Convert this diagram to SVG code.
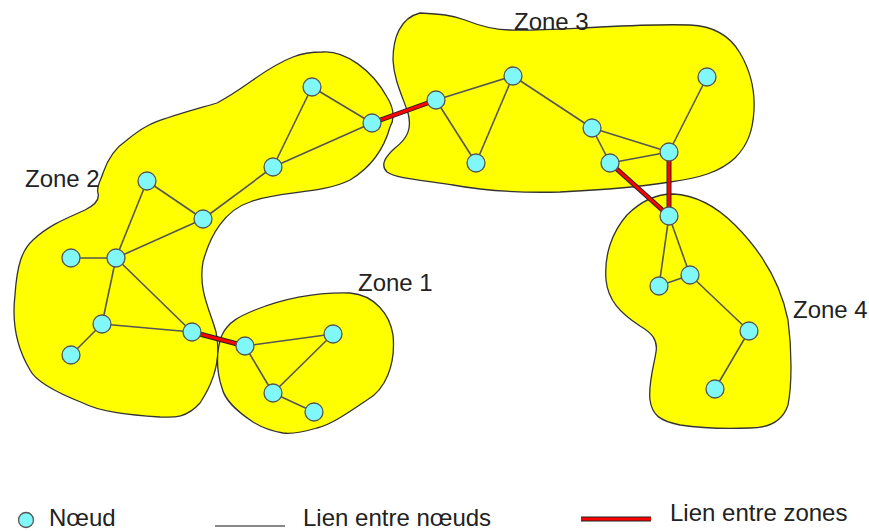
<svg xmlns="http://www.w3.org/2000/svg" width="869" height="531" viewBox="0 0 869 531">
  <style>
    .zone { fill: #ffff00; stroke: #333; stroke-width: 1.3; }
    .edge { stroke: #555; stroke-width: 1.6; fill: none; }
    .xlink-out { stroke: #222; stroke-width: 5; fill: none; }
    .xlink { stroke: #ff0000; stroke-width: 3; fill: none; }
    .node { fill: #80f8f8; stroke: #555; stroke-width: 1.3; }
    .label { font-family: "Liberation Sans", Arial, sans-serif; font-size: 24px; fill: #222; }
  </style>
  <rect width="869" height="531" fill="#ffffff"/>

  <!-- zones -->
  <g id="zone2">
    <path class="zone" d="M322,52 C345,50 372,70 387,97 C395,110 394,120 390,127 C385,145 375,165 350,180 C320,195 280,190 250,202 C225,210 210,235 203,262 C198,290 210,310 216,332 C222,360 212,385 200,403 C185,420 170,417 160,417 C130,415 100,412 83,403 C55,392 35,380 30,370 C15,345 12,320 15,295 C17,265 22,250 33,240 C50,224 70,217 85,210 C95,205 100,200 98,193 C96,187 101,180 103,173 C108,158 115,148 127,140 C145,125 155,122 167,118 C185,112 200,108 217,103 C232,95 243,87 253,80 C267,70 280,62 293,57 C303,53 312,52 322,52 Z"/>
    <text class="label" x="25" y="187">Zone 2</text>
  </g>
  <g id="zone1">
    <path class="zone" d="M350,293 C375,295 390,315 393,335 C396,365 385,390 367,400 C345,415 330,425 317,428 C300,433 290,434 283,433 C265,430 258,425 253,422 C235,410 225,400 222,388 C216,370 216,350 222,335 C228,322 240,316 255,310 C280,300 310,292 350,293 Z"/>
    <text class="label" x="358" y="291">Zone 1</text>
  </g>
  <g id="zone3">
    <path class="zone" d="M420,13 C440,14 452,15 465,20 C480,26 495,30 510,30 C530,31 560,29 600,27 C640,25 660,24 690,25 C715,26 730,36 740,53 C750,70 755,90 754,110 C753,130 748,145 735,158 C720,172 700,178 670,182 C640,187 600,190 560,192 C520,193 480,190 453,185 C420,180 395,178 387,172 C380,165 385,157 395,148 C408,138 412,128 408,113 C402,95 394,80 393,60 C393,38 400,18 420,13 Z"/>
    <text class="label" x="514" y="30">Zone 3</text>
  </g>
  <g id="zone4">
    <path class="zone" d="M673,194 C695,195 715,205 735,225 C760,250 780,280 788,320 C792,350 792,385 788,405 C783,420 770,428 750,428 C725,429 700,428 680,425 C660,421 652,415 650,400 C648,385 654,365 656,352 C658,340 652,333 640,326 C620,313 608,300 606,280 C604,255 612,232 627,215 C640,202 655,194 673,194 Z"/>
    <text class="label" x="793" y="318">Zone 4</text>
  </g>

  <!-- connectors -->
  <g id="connectors">
    <!-- links inside zone 2 -->
    <line class="edge" x1="312" y1="87" x2="372" y2="123"/>
    <line class="edge" x1="312" y1="87" x2="273" y2="167"/>
    <line class="edge" x1="273" y1="167" x2="372" y2="123"/>
    <line class="edge" x1="273" y1="167" x2="203" y2="219"/>
    <line class="edge" x1="147" y1="181" x2="203" y2="219"/>
    <line class="edge" x1="147" y1="181" x2="116" y2="258"/>
    <line class="edge" x1="203" y1="219" x2="116" y2="258"/>
    <line class="edge" x1="71" y1="258" x2="116" y2="258"/>
    <line class="edge" x1="116" y1="258" x2="102" y2="324"/>
    <line class="edge" x1="116" y1="258" x2="192" y2="332"/>
    <line class="edge" x1="102" y1="324" x2="192" y2="332"/>
    <line class="edge" x1="102" y1="324" x2="71" y2="355"/>
    <!-- links inside zone 1 -->
    <line class="edge" x1="245" y1="346" x2="333" y2="334"/>
    <line class="edge" x1="245" y1="346" x2="273" y2="393"/>
    <line class="edge" x1="273" y1="393" x2="333" y2="334"/>
    <line class="edge" x1="273" y1="393" x2="314" y2="412"/>
    <!-- links inside zone 3 -->
    <line class="edge" x1="436" y1="100" x2="513" y2="76"/>
    <line class="edge" x1="436" y1="100" x2="476" y2="163"/>
    <line class="edge" x1="476" y1="163" x2="513" y2="76"/>
    <line class="edge" x1="513" y1="76" x2="592" y2="128"/>
    <line class="edge" x1="592" y1="128" x2="610" y2="163"/>
    <line class="edge" x1="592" y1="128" x2="669" y2="152"/>
    <line class="edge" x1="610" y1="163" x2="669" y2="152"/>
    <line class="edge" x1="669" y1="152" x2="707" y2="77"/>
    <!-- links inside zone 4 -->
    <line class="edge" x1="669" y1="216" x2="659" y2="286"/>
    <line class="edge" x1="669" y1="216" x2="690" y2="275"/>
    <line class="edge" x1="659" y1="286" x2="690" y2="275"/>
    <line class="edge" x1="690" y1="275" x2="749" y2="331"/>
    <line class="edge" x1="749" y1="331" x2="715" y2="389"/>
    <!-- inter-zone links -->
    <g>
      <line class="xlink-out" x1="372" y1="123" x2="436" y2="100"/>
      <line class="xlink-out" x1="192" y1="332" x2="245" y2="346"/>
      <line class="xlink-out" x1="610" y1="163" x2="669" y2="216"/>
      <line class="xlink-out" x1="669" y1="152" x2="669" y2="216"/>
      <line class="xlink" x1="372" y1="123" x2="436" y2="100"/>
      <line class="xlink" x1="192" y1="332" x2="245" y2="346"/>
      <line class="xlink" x1="610" y1="163" x2="669" y2="216"/>
      <line class="xlink" x1="669" y1="152" x2="669" y2="216"/>
    </g>
  </g>

  <!-- nodes -->
  <g id="n2a"><circle class="node" cx="312" cy="87" r="9"/></g>
  <g id="n2b"><circle class="node" cx="372" cy="123" r="9"/></g>
  <g id="n2c"><circle class="node" cx="273" cy="167" r="9"/></g>
  <g id="n2d"><circle class="node" cx="147" cy="181" r="9"/></g>
  <g id="n2e"><circle class="node" cx="203" cy="219" r="9"/></g>
  <g id="n2f"><circle class="node" cx="71" cy="258" r="9"/></g>
  <g id="n2g"><circle class="node" cx="116" cy="258" r="9"/></g>
  <g id="n2h"><circle class="node" cx="102" cy="324" r="9"/></g>
  <g id="n2i"><circle class="node" cx="192" cy="332" r="9"/></g>
  <g id="n2j"><circle class="node" cx="71" cy="355" r="9"/></g>
  <g id="n1a"><circle class="node" cx="245" cy="346" r="9"/></g>
  <g id="n1b"><circle class="node" cx="333" cy="334" r="9"/></g>
  <g id="n1c"><circle class="node" cx="273" cy="393" r="9"/></g>
  <g id="n1d"><circle class="node" cx="314" cy="412" r="9"/></g>
  <g id="n3a"><circle class="node" cx="513" cy="76" r="9"/></g>
  <g id="n3b"><circle class="node" cx="436" cy="100" r="9"/></g>
  <g id="n3c"><circle class="node" cx="476" cy="163" r="9"/></g>
  <g id="n3d"><circle class="node" cx="592" cy="128" r="9"/></g>
  <g id="n3e"><circle class="node" cx="610" cy="163" r="9"/></g>
  <g id="n3f"><circle class="node" cx="669" cy="152" r="9"/></g>
  <g id="n3g"><circle class="node" cx="707" cy="77" r="9"/></g>
  <g id="n4a"><circle class="node" cx="669" cy="216" r="9"/></g>
  <g id="n4b"><circle class="node" cx="659" cy="286" r="9"/></g>
  <g id="n4c"><circle class="node" cx="690" cy="275" r="9"/></g>
  <g id="n4d"><circle class="node" cx="749" cy="331" r="9"/></g>
  <g id="n4e"><circle class="node" cx="715" cy="389" r="9"/></g>

  <!-- legend -->
  <g id="legend">
    <circle class="node" cx="26" cy="520" r="7.5"/>
    <text class="label" x="49" y="526">Nœud</text>
    <line x1="215" y1="526" x2="285" y2="526" stroke="#888" stroke-width="2"/>
    <text class="label" x="303" y="526">Lien entre nœuds</text>
    <line class="xlink-out" x1="581" y1="519" x2="651" y2="519"/>
    <line class="xlink" x1="581" y1="519" x2="651" y2="519"/>
    <text class="label" x="670" y="521">Lien entre zones</text>
  </g>
</svg>
